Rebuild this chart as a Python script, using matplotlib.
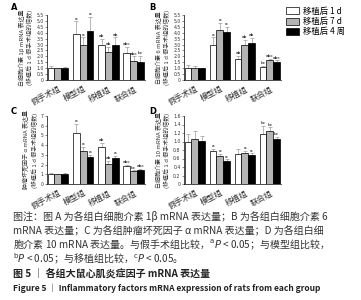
import matplotlib
matplotlib.use("Agg")
import matplotlib.pyplot as plt
import numpy as np
from matplotlib.patches import Patch

plt.rcParams['font.family'] = ['Noto Sans CJK SC', 'DejaVu Sans']
plt.rcParams['axes.unicode_minus'] = False

groups = ["假手术组", "模型组", "移植组", "联合组"]
series = ["移植后 1 d", "移植后 7 d", "移植后 4 周"]

# Panel A: IL-1β
A_1d = [1.05, 3.85, 2.95, 2.3]
A_7d = [1.0, 3.0, 2.35, 1.6]
A_4w = [1.0, 4.15, 3.0, 1.5]
A_err_1d = [0.15, 1.1, 0.55, 0.5]
A_err_7d = [0.05, 0.6, 0.45, 0.4]
A_err_4w = [0.1, 1.2, 0.6, 0.55]
A_sig_1d = ["", "a", "ab", "abc"]
A_sig_7d = ["", "a", "ab", "abc"]
A_sig_4w = ["", "a", "ab", "bc"]

# Panel B: IL-6
B_1d = [1.05, 3.0, 1.75, 1.1]
B_7d = [1.05, 4.2, 2.95, 1.65]
B_4w = [1.0, 4.1, 3.15, 1.55]
B_err_1d = [0.2, 0.6, 0.3, 0.1]
B_err_7d = [0.1, 0.6, 0.45, 0.15]
B_err_4w = [0.05, 0.4, 0.4, 0.1]
B_sig_1d = ["", "a", "ab", "bc"]
B_sig_7d = ["", "a", "ab", "abc"]
B_sig_4w = ["", "a", "ab", "abc"]

# Panel C: TNF-α
C_1d = [1.0, 5.2, 3.85, 1.85]
C_7d = [1.0, 3.35, 2.1, 1.3]
C_4w = [1.05, 2.75, 2.65, 1.45]
C_err_1d = [0.1, 1.0, 0.4, 0.15]
C_err_7d = [0.05, 0.45, 0.3, 0.1]
C_err_4w = [0.05, 0.25, 0.25, 0.1]
C_sig_1d = ["", "a", "ab", "abc"]
C_sig_7d = ["", "a", "ab", "bc"]
C_sig_4w = ["", "a", "a", "abc"]

# Panel D: IL-10
D_1d = [1.0, 0.78, 0.71, 1.17]
D_7d = [1.05, 0.65, 0.73, 1.25]
D_4w = [1.01, 0.55, 0.68, 1.06]
D_err_1d = [0.17, 0.05, 0.12, 0.2]
D_err_7d = [0.2, 0.05, 0.05, 0.08]
D_err_4w = [0.12, 0.03, 0.04, 0.05]
D_sig_1d = ["", "a", "", "bc"]
D_sig_7d = ["", "a", "a", "bc"]
D_sig_4w = ["", "a", "a", "bc"]

A_ticks = [0, 0.5, 1.0, 1.5, 2.0, 2.5, 3.0, 3.5, 4.0, 4.5, 5.0, 5.5]
B_ticks = [0, 0.5, 1.0, 1.5, 2.0, 2.5, 3.0, 3.5, 4.0, 4.5, 5.0, 5.5]
C_ticks = [0, 1, 2, 3, 4, 5, 6, 7]
D_ticks = [0, 0.2, 0.4, 0.6, 0.8, 1.0, 1.2, 1.4, 1.6]

A_ylabel = "白细胞介素 1β mRNA 表达量\n(移植后 1 d 假手术组的倍数)"
B_ylabel = "白细胞介素 6 mRNA 表达量\n(移植后 1 d 假手术组的倍数)"
C_ylabel = "肿瘤坏死因子 α mRNA 表达量\n(移植后 1 d 假手术组的倍数)"
D_ylabel = "白细胞介素 10 mRNA 表达量\n(移植后 1 d 假手术组的倍数)"

colors = ["white", "#b4b4b4", "black"]

fig = plt.figure(figsize=(3.61, 3.0), dpi=100)

W, H = 361.0, 300.0
def axrect(l, t, r, b):
    return [l / W, 1 - b / H, (r - l) / W, (b - t) / H]

panels = [
    ("A", axrect(47, 15, 145, 80), [A_1d, A_7d, A_4w], [A_err_1d, A_err_7d, A_err_4w],
     [A_sig_1d, A_sig_7d, A_sig_4w], A_ticks, A_ylabel, "{:.1f}", (11, 8)),
    ("B", axrect(184, 15, 281, 80), [B_1d, B_7d, B_4w], [B_err_1d, B_err_7d, B_err_4w],
     [B_sig_1d, B_sig_7d, B_sig_4w], B_ticks, B_ylabel, "{:.1f}", (149, 8)),
    ("C", axrect(47, 116, 145, 184), [C_1d, C_7d, C_4w], [C_err_1d, C_err_7d, C_err_4w],
     [C_sig_1d, C_sig_7d, C_sig_4w], C_ticks, C_ylabel, "{:d}", (11, 111)),
    ("D", axrect(184, 116, 281, 184), [D_1d, D_7d, D_4w], [D_err_1d, D_err_7d, D_err_4w],
     [D_sig_1d, D_sig_7d, D_sig_4w], D_ticks, D_ylabel, "{:.1f}", (149, 111)),
]

x = np.arange(len(groups))
bw = 0.27
for letter, rect, vals, errs, sigs, ticks, ylabel, fmt, lpos in panels:
    ax = fig.add_axes(rect)
    top = ticks[-1]
    for i in range(3):
        xs = x + (i - 1) * bw
        ax.bar(xs, vals[i], width=bw, color=colors[i], edgecolor="black", linewidth=0.5, zorder=2)
        ax.errorbar(xs, vals[i], yerr=[np.zeros(len(groups)), errs[i]], fmt="none",
                    ecolor="#9a9a9a", elinewidth=0.5, capsize=1.2, capthick=0.5, zorder=1)
        for j in range(len(groups)):
            if sigs[i][j]:
                ax.text(xs[j], vals[i][j] + errs[i][j] + top * 0.012, sigs[i][j],
                        ha="center", va="bottom", fontsize=3.2, family="DejaVu Sans")
    ax.set_xlim(-0.43, 3.45)
    ax.set_ylim(0, top)
    ax.set_yticks(ticks)
    ax.set_yticklabels(["0" if t == 0 else (fmt.format(int(t)) if fmt == "{:d}" else fmt.format(t)) for t in ticks],
                       fontsize=3.3, family="DejaVu Sans")
    ax.set_xticks(x)
    ax.set_xticklabels(groups, fontsize=5.8, rotation=28, ha="right", rotation_mode="anchor")
    ax.tick_params(axis="both", length=1.5, width=0.4, pad=1, colors="#333333")
    ax.tick_params(axis="x", length=0, pad=3)
    for s in ["top", "right"]:
        ax.spines[s].set_visible(False)
    for s in ["left", "bottom"]:
        ax.spines[s].set_linewidth(0.5)
    ax.set_ylabel(ylabel, fontsize=4.3, labelpad=2, linespacing=1.3, color="#333333")
    fig.text(lpos[0] / W, 1 - lpos[1] / H, letter, fontsize=6, fontweight="bold",
             family="DejaVu Sans", ha="left", va="center")

handles = [Patch(facecolor=c, edgecolor="black", linewidth=0.5) for c in colors]
fig.legend(handles, series, loc="upper left", bbox_to_anchor=(280 / W, 1 - 1 / H),
           frameon=False, fontsize=6, handlelength=1.6, handleheight=0.9,
           labelspacing=0.15, handletextpad=0.4, borderpad=0.2)

caption = [
    "图注：图 A 为各组白细胞介素 1β mRNA 表达量；B 为各组白细胞介素 6",
    "mRNA 表达量；C 为各组肿瘤坏死因子 α mRNA 表达量；D 为各组白细",
    "胞介素 10 mRNA 表达量。与假手术组比较，$^{\\mathrm{a}}P$ < 0.05；与模型组比较，",
    "$^{\\mathrm{b}}P$ < 0.05；与移植组比较，$^{\\mathrm{c}}P$ < 0.05。",
]
ys = [217, 231, 245, 259]
for line, yy in zip(caption, ys):
    fig.text(13 / W, 1 - yy / H, line, fontsize=7.2, ha="left", va="center", color="#333333")
fig.text(13 / W, 1 - 273 / H, "图 5 ｜ 各组大鼠心肌炎症因子 mRNA 表达量", fontsize=7.2,
         fontweight="bold", ha="left", va="center", color="#222222")
fig.text(13 / W, 1 - 288 / H, "Figure 5 ｜ Inflammatory factors mRNA expression of rats from each group",
         fontsize=6.1, fontweight="bold", ha="left", va="center", color="#222222")

fig.savefig("out.png", dpi=100)
